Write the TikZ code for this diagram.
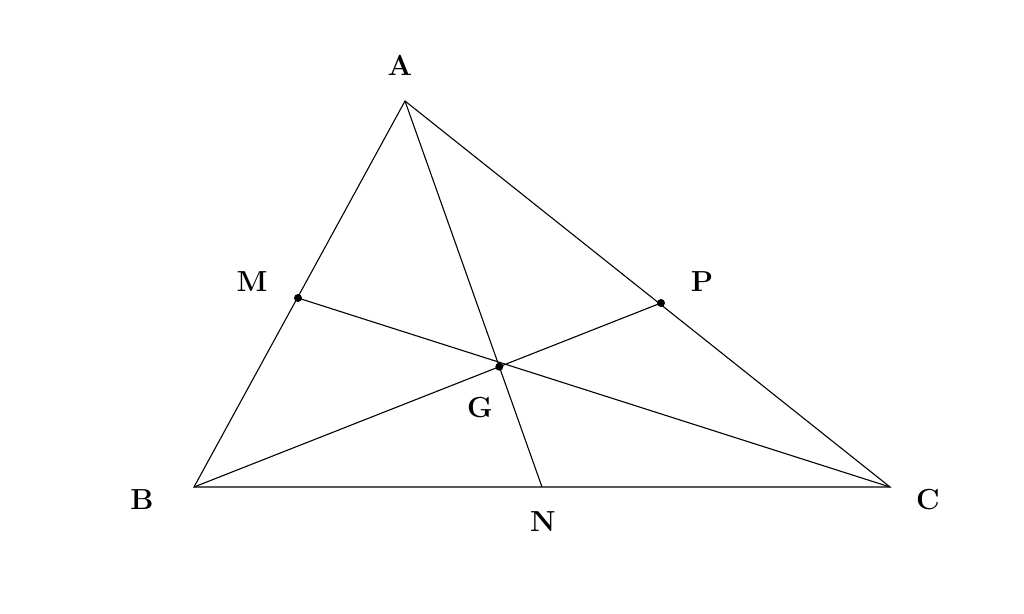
\documentclass[tikz,border=0pt]{standalone}
\usetikzlibrary{intersections}
\begin{document}
\begin{tikzpicture}[x=1pt,y=-1pt,
  seg/.style={line width=1.1pt,line join=miter},
  lbl/.style={font=\fontsize{29}{34}\selectfont\bfseries,inner sep=0pt},
  pt/.style={circle,fill=black,inner sep=0pt,minimum size=8pt}]
\useasboundingbox (0,0) rectangle (1024,613);
\fill[white] (0,0) rectangle (1024,613);
\coordinate (A) at (405,101);
\coordinate (B) at (194,487);
\coordinate (C) at (890,487);
\coordinate (M) at (298,298);
\coordinate (P) at (661,303);
\coordinate (N) at (542,487);
\draw[seg] (A) -- (B) -- (C) -- cycle;
\draw[seg,name path=an] (A) -- (N);
\draw[seg,name path=bp] (B) -- (P);
\draw[seg] (M) -- (C);
\path[name intersections={of=an and bp,by=G}];
\node[pt] (dM) at (M) {};
\node[pt] (dP) at (P) {};
\node[pt] (dG) at (G) {};
\node[lbl] (lA) at (400,65) {A};
\node[lbl] (lB) at (142,500) {B};
\node[lbl] (lC) at (928,500) {C};
\node[lbl] (lM) at (252,282) {M};
\node[lbl] (lP) at (702,282) {P};
\node[lbl] (lG) at (480,408) {G};
\node[lbl] (lN) at (543,522) {N};
\end{tikzpicture}
\end{document}
